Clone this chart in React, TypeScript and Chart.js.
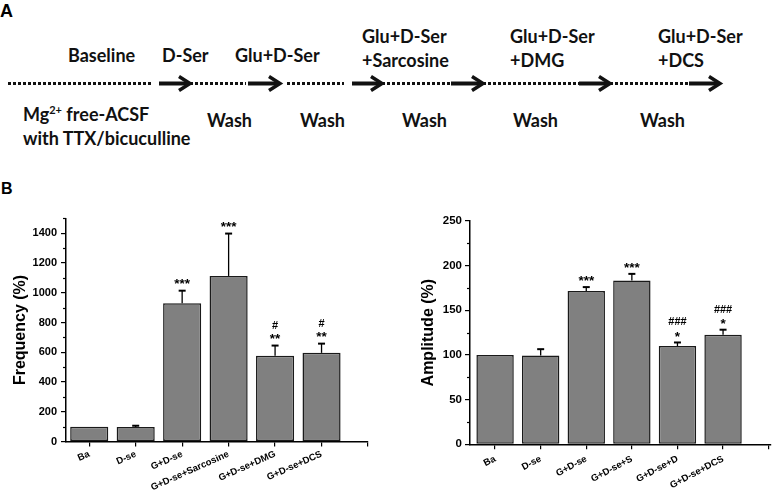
import React, { useEffect, useRef } from "react";
import { Chart, registerables } from "chart.js";

Chart.register(...registerables);

// ---------- Data ----------
const freqCategories = ["Ba", "D-se", "G+D-se", "G+D-se+Sarcosine", "G+D-se+DMG", "G+D-se+DCS"];
const freqMean = [100, 98, 929, 1113, 576, 596];
const freqErr = [0, 8, 85, 285, 69, 62];
const freqMarks = [[], [], ["***"], ["***"], ["**", "#"], ["**", "#"]];
const freqTicks = [0, 200, 400, 600, 800, 1000, 1200, 1400];
const freqMinorTicks = [100, 300, 500, 700, 900, 1100, 1300, 1500];

const ampCategories = ["Ba", "D-se", "G+D-se", "G+D-se+S", "G+D-se+D", "G+D-se+DCS"];
const ampMean = [100, 99.5, 171.5, 183.4, 110, 122.7];
const ampErr = [0, 7, 4.5, 7.4, 4, 5.6];
const ampMarks = [[], [], ["***"], ["***"], ["*", "###"], ["*", "###"]];
const ampTicks = [0, 50, 100, 150, 200, 250];
const ampMinorTicks = [25, 75, 125, 175, 225];

const FONT = 'Arial, "Liberation Sans", sans-serif';
const TEXT_FONT = 'Lato, "Open Sans", sans-serif';

const annotPlugin = {
  id: "annot",
  afterDatasetsDraw(chart: any, _args: any, o: any) {
    const { ctx } = chart;
    const y = chart.scales.y;
    const meta = chart.getDatasetMeta(0);
    const vals = chart.data.datasets[0].data;
    ctx.save();
    ctx.strokeStyle = "#000";
    ctx.fillStyle = "#000";
    meta.data.forEach((bar: any, i: number) => {
      const v = vals[i].y;
      const e = o.err[i];
      const top = y.getPixelForValue(v + e);
      if (e > 0) {
        ctx.lineWidth = 1.3;
        ctx.beginPath();
        ctx.moveTo(bar.x, bar.y);
        ctx.lineTo(bar.x, top);
        ctx.stroke();
        ctx.lineWidth = 2;
        ctx.beginPath();
        ctx.moveTo(bar.x - 3.5, top);
        ctx.lineTo(bar.x + 3.5, top);
        ctx.stroke();
      }
      ctx.textAlign = "center";
      ctx.textBaseline = "alphabetic";
      (o.marks[i] || []).forEach((m: string, k: number) => {
        const star = m.startsWith("*");
        const size = star ? 13.5 : 11;
        ctx.font = `bold ${size}px ${FONT}`;
        const center = top - o.gap - k * o.lineGap;
        const off = star ? 0.58 : 0.36;
        ctx.fillText(m, bar.x, center + off * size);
      });
    });
    // minor ticks on y axis
    const left = chart.chartArea.left;
    ctx.lineWidth = 1.2;
    o.minor.forEach((v: number) => {
      const py = Math.round(y.getPixelForValue(v)) + 0.5;
      ctx.beginPath();
      ctx.moveTo(left - 3, py);
      ctx.lineTo(left, py);
      ctx.stroke();
    });
    ctx.restore();
  },
};

function makeChart(canvas: HTMLCanvasElement, p: any) {
  const data = p.mean.map((v: number, i: number) => ({ x: i, y: v }));
  return new Chart(canvas, {
    type: "bar",
    data: {
      datasets: [
        {
          data,
          backgroundColor: "#808080",
          borderColor: "#1a1a1a",
          borderWidth: 1.5,
          borderSkipped: false,
          categoryPercentage: 1,
          barPercentage: 0.82,
        },
      ],
    },
    options: {
      animation: false,
      responsive: false,
      layout: { padding: { top: p.padTop, right: p.padRight, left: 0, bottom: 0 } },
      plugins: {
        legend: { display: false },
        tooltip: { enabled: false },
        annot: {
          err: p.err,
          marks: p.marks,
          minor: p.minor,
          gap: p.gap,
          lineGap: p.lineGap,
        },
      } as any,
      scales: {
        x: {
          type: "linear",
          min: p.xMin,
          max: p.xMax,
          offset: false,
          afterBuildTicks: (s: any) => {
            s.ticks = [0, 1, 2, 3, 4, 5, 6].map((v) => ({ value: v }));
          },
          afterFit: (s: any) => {
            s.height = p.xh;
          },
          grid: {
            offset: false,
            drawOnChartArea: false,
            drawTicks: true,
            tickLength: 5,
            color: "#000",
            lineWidth: 1.2,
          },
          border: { color: "#000", width: 1.5 },
          ticks: {
            autoSkip: false,
            minRotation: p.rot,
            maxRotation: p.rot,
            padding: p.xPad,
            color: "#000",
            font: { family: FONT, size: 9.5, weight: "bold" },
            callback: (v: any) => p.cats[v] ?? "",
          },
        } as any,
        y: {
          min: 0,
          max: p.yMax,
          afterBuildTicks: (s: any) => {
            s.ticks = p.yTicks.map((v: number) => ({ value: v }));
          },
          afterFit: (s: any) => {
            s.width = p.yw;
          },
          grid: {
            drawOnChartArea: false,
            drawTicks: true,
            tickLength: 5,
            color: "#000",
            lineWidth: 1.2,
          },
          border: { color: "#000", width: 1.5 },
          ticks: {
            padding: p.yPad,
            color: "#000",
            font: { family: FONT, size: p.yFont, weight: "bold" },
            callback: (v: any) => String(v),
          },
          title: {
            display: true,
            text: p.title,
            color: "#000",
            font: { family: FONT, size: 16, weight: "bold" },
            padding: { top: p.titlePad, bottom: 0 },
          },
        } as any,
      },
    },
    plugins: [annotPlugin as any],
  });
}

function BarChart(props: any) {
  const ref = useRef<HTMLCanvasElement>(null);
  useEffect(() => {
    const c = makeChart(ref.current!, props);
    return () => c.destroy();
  }, []);
  return (
    <canvas
      ref={ref}
      width={props.w}
      height={props.h}
      style={{ position: "absolute", left: props.left, top: props.top, width: props.w, height: props.h }}
    />
  );
}

function Scheme() {
  const ly = 83.5;
  const dots = [[8, 153], [190, 246], [287, 344], [382, 451], [483, 579], [610, 689]];
  const arrows = [[159, 190], [248, 280], [352, 382], [451, 483], [579, 610], [689, 720]];
  const t = { fontFamily: TEXT_FONT, fontWeight: 700, fontSize: 18, fill: "#111" } as any;
  return (
    <svg width={778} height={200} style={{ position: "absolute", left: 0, top: 0 }}>
      <text x={0} y={17} style={{ fontFamily: FONT, fontWeight: 700, fontSize: 18, fill: "#000" }}>A</text>
      {dots.map(([a, b], i) => (
        <line key={"d" + i} x1={a} y1={ly} x2={b} y2={ly} stroke="#111" strokeWidth={3} strokeDasharray="3 2" />
      ))}
      {arrows.map(([a, b], i) => (
        <g key={"a" + i}>
          <line x1={a} y1={ly} x2={b - 2} y2={ly} stroke="#111" strokeWidth={4} />
          <polyline
            points={`${b - 11},${ly - 7} ${b},${ly} ${b - 11},${ly + 7}`}
            fill="none"
            stroke="#111"
            strokeWidth={3.5}
          />
        </g>
      ))}
      <text x={68} y={62} style={t}>Baseline</text>
      <text x={162} y={62} style={t}>D-Ser</text>
      <text x={235} y={62} style={t}>Glu+D-Ser</text>
      <text x={362} y={43} style={t}>Glu+D-Ser</text>
      <text x={362} y={67} style={t}>+Sarcosine</text>
      <text x={510} y={43} style={t}>Glu+D-Ser</text>
      <text x={510} y={67} style={t}>+DMG</text>
      <text x={658} y={43} style={t}>Glu+D-Ser</text>
      <text x={658} y={67} style={t}>+DCS</text>
      <text x={23} y={121} style={t}>
        Mg<tspan fontSize={11} dy={-7}>2+</tspan>
        <tspan dy={7}> free-ACSF</tspan>
      </text>
      <text x={23} y={145} style={t}>with TTX/bicuculline</text>
      <text x={207} y={127} style={t}>Wash</text>
      <text x={300} y={127} style={t}>Wash</text>
      <text x={402} y={127} style={t}>Wash</text>
      <text x={513} y={127} style={t}>Wash</text>
      <text x={640} y={127} style={t}>Wash</text>
      <text x={1} y={194} style={{ fontFamily: FONT, fontWeight: 700, fontSize: 16, fill: "#000" }}>B</text>
    </svg>
  );
}

export default function App() {
  return (
    <div style={{ position: "absolute", left: 0, top: 0, width: 778, height: 497, background: "#fff", overflow: "hidden" }}>
      <Scheme />
      <BarChart
        left={0}
        top={200}
        w={390}
        h={297}
        cats={freqCategories}
        mean={freqMean}
        err={freqErr}
        marks={freqMarks}
        yTicks={freqTicks}
        minor={freqMinorTicks}
        yMax={1500}
        xMin={-0.5}
        xMax={6}
        padTop={18.4}
        padRight={22}
        xh={55.5}
        yw={66}
        yPad={4}
        yFont={11}
        xPad={2}
        rot={24}
        title="Frequency (%)"
        titlePad={11.4}
        gap={10.5}
        lineGap={10}
      />
      <BarChart
        left={390}
        top={200}
        w={388}
        h={297}
        cats={ampCategories}
        mean={ampMean}
        err={ampErr}
        marks={ampMarks}
        yTicks={ampTicks}
        minor={ampMinorTicks}
        yMax={250}
        xMin={-0.55}
        xMax={6.05}
        padTop={21}
        padRight={0}
        xh={52.7}
        yw={80}
        yPad={3}
        yFont={11.5}
        xPad={4}
        rot={28}
        title="Amplitude (%)"
        titlePad={28.9}
        gap={9.5}
        lineGap={11.5}
      />
    </div>
  );
}
